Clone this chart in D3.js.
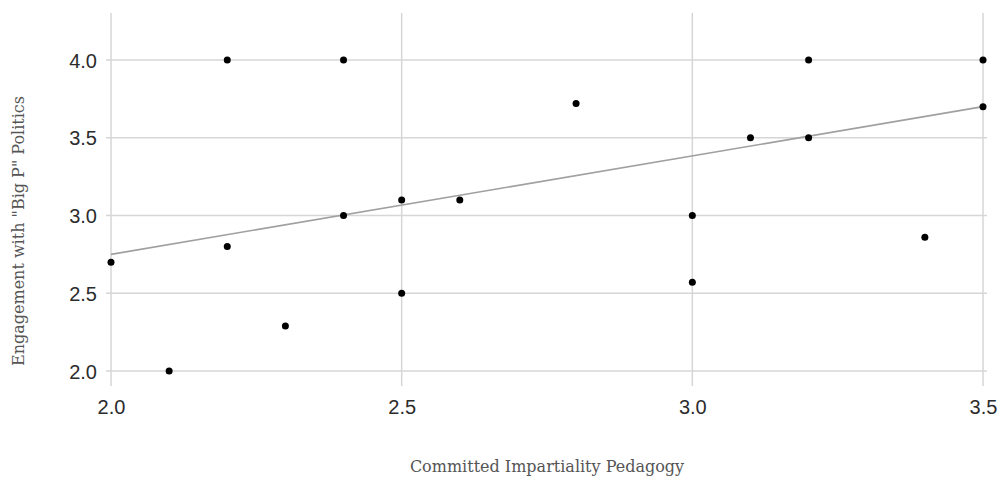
<!DOCTYPE html>
<html>
<head>
<meta charset="utf-8">
<script src="https://cdn.jsdelivr.net/npm/d3@7"></script>
<style>
  html, body { margin: 0; padding: 0; background: #fff; }
  svg { display: block; }
</style>
</head>
<body>
<svg id="chart" width="1000" height="479"></svg>
<script>
// Data
const pedagogy = [2.0, 2.1, 2.2, 2.2, 2.3, 2.4, 2.4, 2.5, 2.5, 2.6, 2.8, 3.0, 3.0, 3.1, 3.2, 3.2, 3.4, 3.5, 3.5];
const engagement = [2.7, 2.0, 4.0, 2.8, 2.29, 4.0, 3.0, 3.1, 2.5, 3.1, 3.72, 3.0, 2.57, 3.5, 4.0, 3.5, 2.86, 4.0, 3.7];
const trendX = [2.0, 3.5];
const trendY = [2.75, 3.70];
const xTicks = [2.0, 2.5, 3.0, 3.5];
const yTicks = [2.0, 2.5, 3.0, 3.5, 4.0];
const xTitle = "Committed Impartiality Pedagogy";
const yTitle = "Engagement with \"Big P\" Politics";

const svg = d3.select("#chart");
const x = d3.scaleLinear().domain([2.0, 3.5]).range([111, 983]);
const y = d3.scaleLinear().domain([2.0, 4.0]).range([371, 60]);

const gridColor = "#d6d6d6";

// vertical gridlines
svg.append("g").selectAll("line").data(xTicks).join("line")
  .attr("x1", d => x(d)).attr("x2", d => x(d))
  .attr("y1", 13).attr("y2", 386)
  .attr("stroke", gridColor).attr("stroke-width", 1.5);

// horizontal gridlines
svg.append("g").selectAll("line").data(yTicks).join("line")
  .attr("x1", 106).attr("x2", 987)
  .attr("y1", d => y(d)).attr("y2", d => y(d))
  .attr("stroke", gridColor).attr("stroke-width", 1.5);

// axes tick labels
const yAxis = d3.axisLeft(y).tickValues(yTicks).tickFormat(d3.format(".1f")).tickSize(0).tickPadding(0);
const gy = svg.append("g").attr("transform", "translate(97,0)").call(yAxis);
gy.select(".domain").remove();
gy.selectAll("text").attr("font-family", "Liberation Sans, Arial, sans-serif")
  .attr("font-size", 20).attr("fill", "#2b2b2b").attr("dy", "0.36em");

const xAxis = d3.axisBottom(x).tickValues(xTicks).tickFormat(d3.format(".1f")).tickSize(0).tickPadding(0);
const gx = svg.append("g").attr("transform", "translate(0,400)").call(xAxis);
gx.select(".domain").remove();
gx.selectAll("text").attr("font-family", "Liberation Sans, Arial, sans-serif")
  .attr("font-size", 20).attr("fill", "#2b2b2b").attr("dy", "0.72em");

// trendline
svg.append("line")
  .attr("x1", x(trendX[0])).attr("y1", y(trendY[0]))
  .attr("x2", x(trendX[1])).attr("y2", y(trendY[1]))
  .attr("stroke", "#a0a0a0").attr("stroke-width", 1.6);

// points
svg.append("g").selectAll("circle").data(pedagogy.map((p, i) => [p, engagement[i]])).join("circle")
  .attr("cx", d => x(d[0])).attr("cy", d => y(d[1]))
  .attr("r", 3.5).attr("fill", "#000");

// axis titles
svg.append("text")
  .attr("x", 547).attr("y", 472)
  .attr("text-anchor", "middle")
  .attr("font-family", "DejaVu Serif, Georgia, serif")
  .attr("font-size", 16).attr("fill", "#555")
  .text(xTitle);

svg.append("text")
  .attr("transform", "translate(24,231) rotate(-90)")
  .attr("text-anchor", "middle")
  .attr("font-family", "DejaVu Serif, Georgia, serif")
  .attr("font-size", 16).attr("fill", "#555")
  .text(yTitle);
</script>
</body>
</html>
